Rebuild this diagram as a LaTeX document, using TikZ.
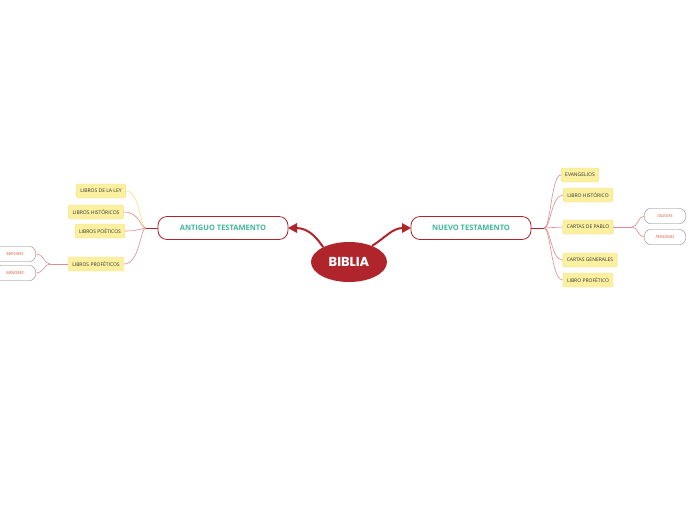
\documentclass[tikz,border=0pt]{standalone}
\usepackage{fontspec}
\setmainfont{Open Sans}
\newfontfamily\titlefont{Poppins}
\usetikzlibrary{arrows.meta,shapes.geometric}
\definecolor{dred}{HTML}{B0242B}
\definecolor{lred}{HTML}{E08A8A}
\definecolor{ylw}{HTML}{FBEFA0}
\definecolor{ylwb}{HTML}{F6E07A}
\definecolor{teal}{HTML}{3DB89A}
\definecolor{ital}{HTML}{E0503C}
\begin{document}
\begin{tikzpicture}[x=1pt,y=-1pt,
 main/.style={draw=dred,fill=white,rounded corners=9pt,minimum width=130pt,minimum height=23pt,font=\fontsize{7.5}{9}\selectfont\bfseries,text=teal,line width=0.8pt},
 leaf/.style={fill=ylw,draw=ylwb,rounded corners=2pt,minimum height=14pt,inner xsep=4pt,font=\fontsize{5}{6}\selectfont,text=black!80},
 sub/.style={draw=gray,fill=white,rounded corners=6pt,minimum width=41pt,minimum height=15pt,font=\fontsize{4}{5}\selectfont\itshape,text=ital},
 lk/.style={draw=lred,line width=0.6pt},
 big/.style={draw=dred,line width=2pt}]
\useasboundingbox (0,0) rectangle (696,520);
\node[ellipse,fill=dred,minimum width=76pt,minimum height=40pt,inner sep=0pt,text=white,font=\titlefont\fontsize{13}{15}\selectfont\bfseries] (b) at (349,262) {BIBLIA};
\node[main] (at) at (223,228) {ANTIGUO TESTAMENTO};
\node[main,minimum width=120pt] (nt) at (471,228) {NUEVO TESTAMENTO};
\coordinate (ta) at (296,228);
\coordinate (tn) at (403,228);
\draw[big] (b.150) .. controls (318,240) and (310,228) .. (ta);
\fill[dred] (288,228) -- (297,223) -- (297,233) -- cycle;
\draw[big] (b.35) .. controls (385,238) and (392,228) .. (tn);
\fill[dred] (411,228) -- (402,223) -- (402,233) -- cycle;
% left leaves
\node[leaf] (l1) at (101,191) {LIBROS DE LA LEY};
\node[leaf] (l2) at (96,212) {LIBROS HISTÓRICOS};
\node[leaf] (l3) at (100,231) {LIBROS POÉTICOS};
\node[leaf] (l4) at (96,264) {LIBROS PROFÉTICOS};
\coordinate (lj) at (146,228);
\draw[dred,line width=1pt] (at.west) -- (lj);
\draw[draw=ylwb,line width=0.6pt] (lj) .. controls (140,228) and (140,191) .. (l1.east);
\draw[lk] (lj) .. controls (140,228) and (140,212) .. (l2.east);
\draw[lk] (lj) .. controls (140,228) and (140,231) .. (l3.east);
\draw[lk] (lj) .. controls (140,228) and (140,264) .. (l4.east);
\node[sub] (m1) at (15,254) {MAYORES};
\node[sub] (m2) at (15,273) {MENORES};
\coordinate (mj) at (50,264);
\draw[lk] (l4.west) -- (mj);
\draw[lk] (mj) .. controls (44,264) and (44,254) .. (m1.east);
\draw[lk] (mj) .. controls (44,264) and (44,273) .. (m2.east);
% right leaves
\node[leaf] (r1) at (580,175) {EVANGELIOS};
\node[leaf] (r2) at (588,195) {LIBRO HISTÓRICO};
\node[leaf] (r3) at (588,227) {CARTAS DE PABLO};
\node[leaf] (r4) at (590,260) {CARTAS GENERALES};
\node[leaf] (r5) at (588,280) {LIBRO PROFÉTICO};
\coordinate (rj) at (544,228);
\draw[dred,line width=1pt] (nt.east) -- (rj);
\draw[lk] (rj) .. controls (551,228) and (551,175) .. (r1.west);
\draw[lk] (rj) .. controls (551,228) and (551,195) .. (r2.west);
\draw[lk] (rj) -- (r3.west);
\draw[lk] (rj) .. controls (551,228) and (551,260) .. (r4.west);
\draw[lk] (rj) .. controls (551,228) and (551,280) .. (r5.west);
\node[sub] (p1) at (665,216) {IGLESIAS};
\node[sub] (p2) at (665,237) {PERSONAS};
\coordinate (pj) at (632,227);
\draw[lk] (r3.east) -- (pj);
\draw[lk] (pj) .. controls (638,227) and (638,216) .. (p1.west);
\draw[lk] (pj) .. controls (638,227) and (638,237) .. (p2.west);
\end{tikzpicture}
\end{document}
